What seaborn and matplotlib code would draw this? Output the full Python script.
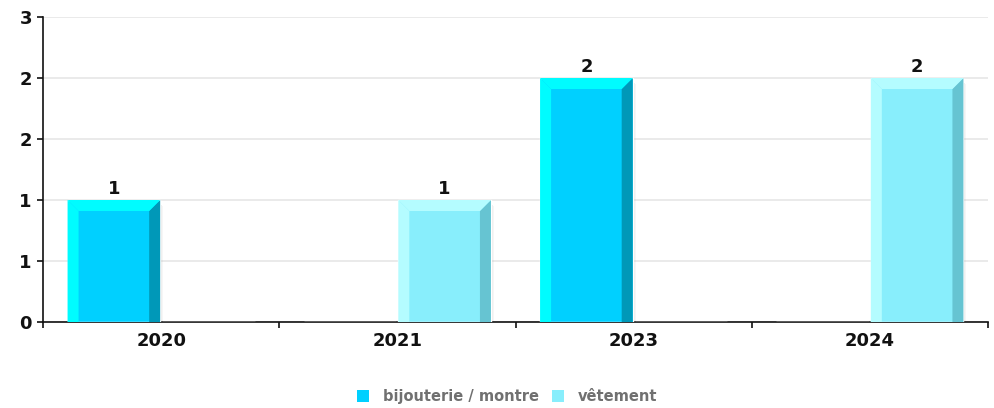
import matplotlib
matplotlib.use("Agg")
import matplotlib.pyplot as plt
import seaborn as sns
import pandas as pd
import numpy as np
from matplotlib.patches import Polygon, Rectangle
from matplotlib.ticker import FixedLocator, FuncFormatter

# ---- data ----
years = ["2020", "2021", "2023", "2024"]
series = ["bijouterie / montre", "vêtement"]
bijouterie = [1, 0, 2, 0]
vetement = [0, 1, 0, 2]
y_ticks = [0, 0.5, 1, 1.5, 2, 2.5]

face_colors = {"bijouterie / montre": "#00d0ff", "vêtement": "#88eefc"}
light_colors = {"bijouterie / montre": "#00fcff", "vêtement": "#b4fcff"}
dark_colors = {"bijouterie / montre": "#0098b8", "vêtement": "#66c4d2"}

df = pd.DataFrame({
    "year": years * 2,
    "serie": [series[0]] * len(years) + [series[1]] * len(years),
    "value": bijouterie + vetement,
})

sns.set_theme(style="white")
plt.rcParams["font.family"] = ["DejaVu Sans"]

W, H = 994, 408
fig = plt.figure(figsize=(W / 100, H / 100), dpi=100)
ax = fig.add_axes([43 / W, 86 / H, 945 / W, 305 / H])

sns.barplot(data=df, x="year", y="value", hue="serie", order=years,
            hue_order=series, palette=face_colors, width=0.8, gap=0.02,
            saturation=1, legend=False, ax=ax, zorder=3)

ax.set_xlim(-0.5, len(years) - 0.5)
ax.set_ylim(0, 2.5)

# grid and axes styling
ax.yaxis.set_major_locator(FixedLocator(y_ticks))
ax.yaxis.set_major_formatter(FuncFormatter(lambda v, p: f"{int(np.floor(v + 0.5))}"))
ax.grid(axis="y", color="#e6e6e6", linewidth=1.2, zorder=0)
ax.set_axisbelow(True)
for s in ["top", "right"]:
    ax.spines[s].set_visible(False)
for s in ["left", "bottom"]:
    ax.spines[s].set_color("#111111")
    ax.spines[s].set_linewidth(1.2)
ax.set_xlabel("")
ax.set_ylabel("")
ax.tick_params(axis="y", length=4, width=1.2, color="#111111", left=True,
               labelsize=13, pad=4)
ax.tick_params(axis="x", which="major", length=0, labelsize=13, pad=7)
ax.set_xticks(np.arange(-0.5, len(years)), minor=True)
ax.tick_params(axis="x", which="minor", length=4, width=1.2, color="#111111", bottom=True)
for lab in ax.get_xticklabels() + ax.get_yticklabels():
    lab.set_fontweight("bold")
    lab.set_color("#111111")

# bevelled 3D look on each bar, in pixel units converted to data units
fig.canvas.draw()
p0 = ax.transData.transform((0, 0))
p1 = ax.transData.transform((1, 1))
px_x = 1.0 / (p1[0] - p0[0])
px_y = 1.0 / (p1[1] - p0[1])
bev_x = 11 * px_x
bev_y = 11 * px_y

for cont, name in zip(ax.containers, series):
    for bar in cont:
        h = bar.get_height()
        if h <= 0:
            continue
        x0 = bar.get_x()
        w = bar.get_width()
        x1 = x0 + w
        # soft shadow on the right side
        for k, a in enumerate([0.18, 0.10, 0.05]):
            ax.add_patch(Rectangle((x1 + k * px_x, 0), px_x, h - (4 + k) * px_y,
                                   color="#555555", alpha=a, lw=0, zorder=2))
        # left highlight strip
        ax.add_patch(Polygon([(x0, 0), (x0 + bev_x, 0), (x0 + bev_x, h - bev_y), (x0, h)],
                             closed=True, color=light_colors[name], lw=0, zorder=4))
        # right dark strip
        ax.add_patch(Polygon([(x1 - bev_x, 0), (x1, 0), (x1, h), (x1 - bev_x, h - bev_y)],
                             closed=True, color=dark_colors[name], lw=0, zorder=4))
        # top highlight strip
        ax.add_patch(Polygon([(x0, h), (x1, h), (x1 - bev_x, h - bev_y), (x0 + bev_x, h - bev_y)],
                             closed=True, color=light_colors[name], lw=0, zorder=4))
        ax.text(x0 + w / 2, h + 2 * px_y, f"{h:g}", ha="center", va="bottom",
                fontsize=13, fontweight="bold", color="#111111", zorder=5)

# legend row below the plot: swatch + label, all on one text baseline
legend_x = [357, 552]
for lx, name in zip(legend_x, series):
    fig.patches.append(Rectangle((lx / W, (H - 402) / H), 12 / W, 12 / H,
                                 transform=fig.transFigure, color=face_colors[name],
                                 lw=0, figure=fig))
    fig.text((lx + 26) / W, (H - 401) / H, name, ha="left", va="baseline",
             fontsize=10.5, fontweight="bold", color="#707070")

fig.savefig("out.png", dpi=100)
